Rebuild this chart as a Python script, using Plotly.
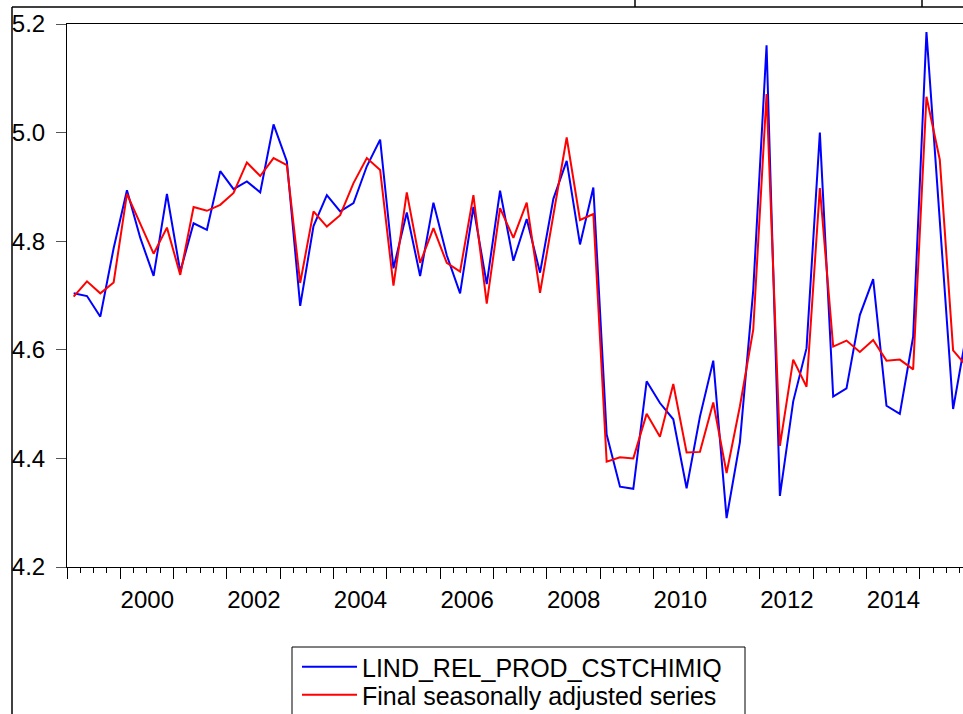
import plotly.graph_objects as go

# quarterly sample 1999Q1 - 2015Q4 (last quarter falls just outside the visible window)
years = list(range(1999, 2016))
quarters = [f"{y}Q{q}" for y in years for q in range(1, 5)]

lind_rel_prod = [
    4.704, 4.699, 4.661, 4.787,
    4.894, 4.806, 4.736, 4.887,
    4.744, 4.833, 4.821, 4.929,
    4.896, 4.910, 4.890, 5.015,
    4.947, 4.681, 4.828, 4.885,
    4.855, 4.870, 4.938, 4.987,
    4.750, 4.853, 4.736, 4.871,
    4.774, 4.704, 4.863, 4.721,
    4.893, 4.764, 4.841, 4.742,
    4.878, 4.948, 4.794, 4.899,
    4.444, 4.348, 4.344, 4.542,
    4.502, 4.472, 4.345, 4.477,
    4.580, 4.290, 4.430, 4.710,
    5.161, 4.331, 4.505, 4.603,
    5.000, 4.514, 4.529, 4.664,
    4.730, 4.497, 4.482, 4.624,
    5.185, 4.845, 4.491, 4.630,
]

seas_adj = [
    4.698, 4.726, 4.704, 4.724,
    4.887, 4.832, 4.777, 4.825,
    4.738, 4.863, 4.856, 4.867,
    4.889, 4.945, 4.920, 4.953,
    4.940, 4.723, 4.855, 4.827,
    4.848, 4.907, 4.953, 4.931,
    4.718, 4.890, 4.760, 4.824,
    4.760, 4.744, 4.885, 4.685,
    4.861, 4.806, 4.871, 4.705,
    4.847, 4.991, 4.839, 4.850,
    4.394, 4.402, 4.400, 4.482,
    4.440, 4.537, 4.411, 4.412,
    4.503, 4.373, 4.496, 4.637,
    5.071, 4.423, 4.582, 4.532,
    4.898, 4.606, 4.617, 4.596,
    4.618, 4.580, 4.582, 4.564,
    5.066, 4.950, 4.599, 4.570,
]

series_names = ["LIND_REL_PROD_CSTCHIMIQ", "Final seasonally adjusted series"]
y_ticks = [4.2, 4.4, 4.6, 4.8, 5.0, 5.2]
year_ticks = years
year_labels = [str(y) if y % 2 == 0 else "" for y in years]


def quarter_to_num(q):
    """'1999Q1' -> 1999.125 (middle of the quarter)"""
    y, n = q.split("Q")
    return int(y) + (int(n) - 0.5) / 4


x = [quarter_to_num(q) for q in quarters]

FONT = "Liberation Sans, Arial, sans-serif"
W, H = 963, 714
L, R, T, B = 67, 0, 24, 147
plot_w = W - L - R
plot_h = H - T - B
px_per_year = 53.3

fig = go.Figure()
# one legend per series so the rows can sit closer than plotly's default spacing
fig.add_trace(go.Scatter(x=x, y=lind_rel_prod, mode="lines", name=series_names[0],
                         line=dict(color="#0000FF", width=2), legend="legend"))
fig.add_trace(go.Scatter(x=x, y=seas_adj, mode="lines", name=series_names[1],
                         line=dict(color="#FF0000", width=2), legend="legend2"))


def px_x(p):
    return (p - L) / plot_w


def px_y(p):
    return (H - B - p) / plot_h


# document / table frame around the graph
frame = dict(type="line", xref="paper", yref="paper", line=dict(color="black", width=1.5))
fig.add_shape(frame, x0=px_x(12), x1=px_x(W + 5), y0=px_y(7), y1=px_y(7))
fig.add_shape(frame, x0=px_x(12), x1=px_x(12), y0=px_y(7), y1=px_y(H + 5))
fig.add_shape(frame, x0=px_x(635), x1=px_x(635), y0=px_y(-2), y1=px_y(7))
fig.add_shape(frame, x0=px_x(922), x1=px_x(922), y0=px_y(-2), y1=px_y(7))

# legend box (runs off the bottom of the window like in the original)
fig.add_shape(type="rect", xref="paper", yref="paper",
              x0=px_x(292), x1=px_x(745), y0=px_y(647), y1=px_y(H + 10),
              line=dict(color="black", width=1), fillcolor="rgba(0,0,0,0)")

legend_style = dict(
    xref="paper", yref="container", x=px_x(297), xanchor="left", yanchor="middle",
    borderwidth=0, bgcolor="rgba(0,0,0,0)", itemwidth=55,
    font=dict(family=FONT, size=25, color="black"),
)

fig.update_layout(
    width=W,
    height=H,
    margin=dict(l=L, r=R, t=T, b=B),
    paper_bgcolor="white",
    plot_bgcolor="white",
    font=dict(family=FONT, size=24, color="black"),
    showlegend=True,
    legend=dict(legend_style, y=(H - 667) / H),
    legend2=dict(legend_style, y=(H - 695) / H),
    xaxis=dict(
        range=[1999, 1999 + plot_w / px_per_year],
        showgrid=False, zeroline=False,
        showline=True, linecolor="black", linewidth=1, mirror=True,
        tickmode="array", tickvals=year_ticks, ticktext=year_labels,
        ticks="outside", ticklen=11, tickcolor="black", tickwidth=1,
        ticklabelshift=int(round(px_per_year / 2)),
        minor=dict(tickmode="linear", tick0=1999, dtick=0.25, ticks="outside",
                   ticklen=5, tickcolor="black", tickwidth=1),
        tickfont=dict(family=FONT, size=24, color="black"),
    ),
    yaxis=dict(
        range=[4.2, 5.2],
        showgrid=False, zeroline=False,
        showline=True, linecolor="black", linewidth=1, mirror=False,
        tickmode="array", tickvals=y_ticks, tickformat=".1f",
        ticks="outside", ticklen=10, tickcolor="#555555", tickwidth=1,
        ticklabelstandoff=6,
        tickfont=dict(family=FONT, size=24, color="black"),
    ),
)

# the page's default 8px body margin would push the figure off the window
fig.write_html("out.html", config={"displayModeBar": False},
               post_script="document.body.style.margin='0';document.body.style.overflow='hidden';")
